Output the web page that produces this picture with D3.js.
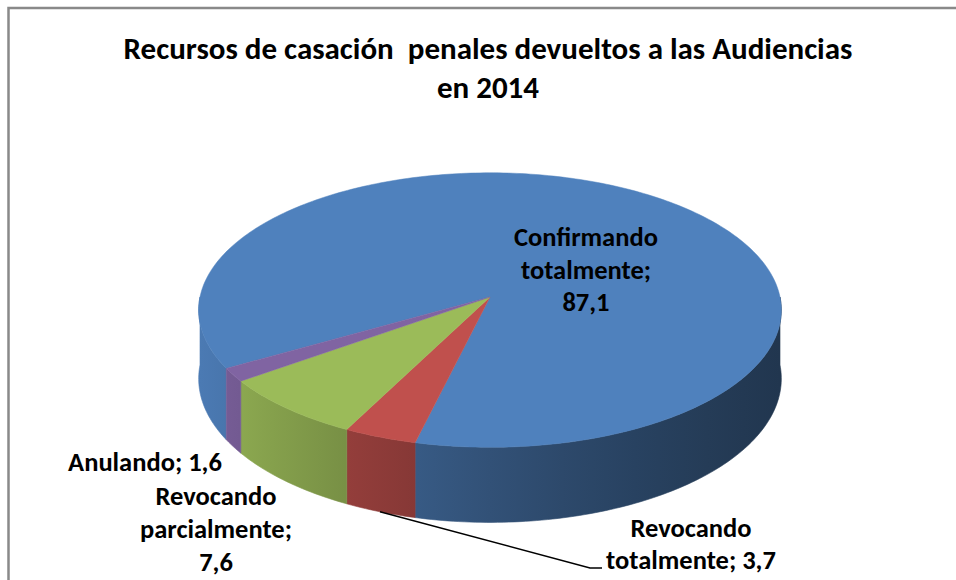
<!DOCTYPE html>
<html>
<head>
<meta charset="utf-8">
<script src="https://cdn.jsdelivr.net/npm/d3@7"></script>
<style>
  html, body { margin: 0; padding: 0; background: #fff; }
  svg { display: block; }
  text { font-family: "Carlito", "Liberation Sans", Arial, sans-serif; font-weight: bold; fill: #000; white-space: pre; }
</style>
</head>
<body>
<svg id="chart" width="956" height="580"></svg>
<script>
// data
const categories = ["Confirmando totalmente", "Revocando totalmente", "Revocando parcialmente", "Anulando"];
const values = [87.1, 3.7, 7.6, 1.6];
const valueLabels = ["87,1", "3,7", "7,6", "1,6"];
const colors = ["#4F81BD", "#C0504D", "#9BBB59", "#8064A2"];
const titleLines = ["Recursos de casación  penales devueltos a las Audiencias", "en 2014"];

const svg = d3.select("#chart");
const defs = svg.append("defs");

// outer frame
svg.append("rect")
  .attr("x", 8.5).attr("y", 8)
  .attr("width", 1000).attr("height", 700)
  .attr("fill", "none")
  .attr("stroke", "#898989")
  .attr("stroke-width", 2.5);

// 3d pie geometry
const cx = 490, cy = 297;   // apex of slices
const rx = 290, ry = 136;   // radii on screen
const persp = 0.095;        // front looks a bit bigger
const depth = 68;

function proj(a, h) {
  const u = Math.sin(a), v = -Math.cos(a);
  const s = 1 / (1 - persp * v);
  return [cx + rx * u * s, cy + ry * v * s + h * s];
}

const start = 240 * Math.PI / 180;
const pie = d3.pie().sort(null).startAngle(start).endAngle(start + 2 * Math.PI);
const arcs = pie(values);

function sampleAngles(a0, a1) {
  const n = Math.max(2, Math.ceil((a1 - a0) / (Math.PI / 180)));
  return d3.range(n + 1).map(i => a0 + (a1 - a0) * i / n);
}

const line = d3.line();
const shade = (c, u) => d3.rgb(c).darker(1.3 + 1.15 * u).formatHex();

// one horizontal gradient per slice for the side wall
colors.forEach((c, i) => {
  const g = defs.append("linearGradient")
    .attr("id", "side" + i)
    .attr("gradientUnits", "userSpaceOnUse")
    .attr("x1", cx - rx).attr("x2", cx + rx)
    .attr("y1", 0).attr("y2", 0);
  d3.range(-1, 1.01, 0.25).forEach(u => {
    g.append("stop")
      .attr("offset", (u + 1) / 2)
      .attr("stop-color", shade(c, u));
  });
});

// visible part of the wall: front half of the rim
const walls = [];
arcs.forEach((d, i) => {
  [[Math.PI / 2, 1.5 * Math.PI], [2.5 * Math.PI, 3.5 * Math.PI]].forEach(([f0, f1]) => {
    const a0 = Math.max(d.startAngle, f0), a1 = Math.min(d.endAngle, f1);
    if (a1 > a0) walls.push({ i, a0, a1 });
  });
});

svg.append("g").selectAll("path")
  .data(walls)
  .join("path")
  .attr("d", w => {
    const as = sampleAngles(w.a0, w.a1);
    const pts = as.map(a => proj(a, 0)).concat(as.slice().reverse().map(a => proj(a, depth)));
    return line(pts) + "Z";
  })
  .attr("fill", w => `url(#side${w.i})`)
  .attr("stroke", w => `url(#side${w.i})`)
  .attr("stroke-width", 0.6);

// top faces
svg.append("g").selectAll("path")
  .data(arcs)
  .join("path")
  .attr("d", d => line([[cx, cy]].concat(sampleAngles(d.startAngle, d.endAngle).map(a => proj(a, 0)))) + "Z")
  .attr("fill", (d, i) => colors[i])
  .attr("stroke", (d, i) => colors[i])
  .attr("stroke-width", 0.5);

// title
const titleY = [59, 98];
svg.append("g").selectAll("text")
  .data(titleLines)
  .join("text")
  .attr("x", 488).attr("y", (d, i) => titleY[i])
  .attr("text-anchor", "middle")
  .style("font-size", "31px")
  .text(d => d);

// data labels (lines, anchor x, baselines)
const labelSpecs = [
  { lines: ["Confirmando", "totalmente;", valueLabels[0]], x: 586, y: [246, 279, 311] },
  { lines: ["Revocando", "totalmente; " + valueLabels[1]], x: 691, y: [537, 569] },
  { lines: ["Revocando", "parcialmente;", valueLabels[2]], x: 216, y: [505, 538, 571] },
  { lines: ["Anulando; " + valueLabels[3]], x: 145, y: [471] }
];

const lg = svg.append("g");
labelSpecs.forEach(spec => {
  spec.lines.forEach((t, j) => {
    lg.append("text")
      .attr("x", spec.x).attr("y", spec.y[j])
      .attr("text-anchor", "middle")
      .style("font-size", "26.5px")
      .text(t);
  });
});

// leader line for the red slice
const red = arcs[1];
const p0 = proj((red.startAngle + red.endAngle) / 2, depth);
svg.append("path")
  .attr("d", line([p0, [590, 568], [602, 568]]))
  .attr("fill", "none")
  .attr("stroke", "#000")
  .attr("stroke-width", 1.5);
</script>
</body>
</html>
